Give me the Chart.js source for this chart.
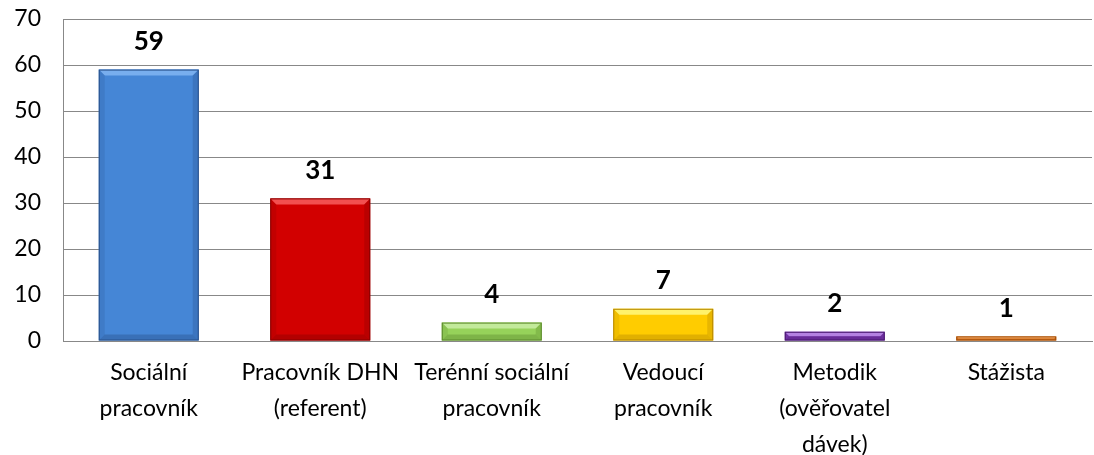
<!DOCTYPE html>
<html>
<head>
<meta charset="utf-8">
<script src="https://cdn.jsdelivr.net/npm/chart.js@4"></script>
<style>
    html, body { margin: 0; padding: 0; background: #fff; }
    #wrap { width: 1094px; height: 455px; }
</style>
</head>
<body>
<div id="wrap"><canvas id="chart" width="1094" height="455"></canvas></div>
<script>
var categories = [
    ["Sociální", "pracovník"],
    ["Pracovník DHN", "(referent)"],
    ["Terénní sociální", "pracovník"],
    ["Vedoucí", "pracovník"],
    ["Metodik", "(ověřovatel", "dávek)"],
    ["Stážista"]
];
var counts = [59, 31, 4, 7, 2, 1];
var yTicks = [0, 10, 20, 30, 40, 50, 60, 70];

// top, bottom, light (top bevel), dark (edges)
var barColors = [
    ["#4586d6", "#3463a6", "#78aeee", "#28508a"],
    ["#d20000", "#b80000", "#f25050", "#840000"],
    ["#96d25a", "#80bb46", "#c2ea9a", "#5a882c"],
    ["#ffcc00", "#f5bb00", "#fff26a", "#b48600"],
    ["#7d3ab4", "#6a2c9c", "#b482e2", "#48186e"],
    ["#ec7c22", "#d86a14", "#f8ac66", "#9c4c0a"]
];

var fontName = "Lato, 'Open Sans', sans-serif";

var bevelPlugin = {
    id: 'bevel',
    afterDatasetsDraw: function(chart) {
        var ctx = chart.ctx;
        var meta = chart.getDatasetMeta(0);
        meta.data.forEach(function(bar, i) {
            var c = barColors[i];
            var left = bar.x - bar.width / 2;
            var right = bar.x + bar.width / 2;
            var top = bar.y;
            var bottom = bar.base;
            var h = bottom - top;
            var b = Math.min(6, h / 2);
            ctx.save();
            // top bevel
            ctx.fillStyle = c[2];
            ctx.beginPath();
            ctx.moveTo(left, top);
            ctx.lineTo(right, top);
            ctx.lineTo(right - b, top + b);
            ctx.lineTo(left + b, top + b);
            ctx.closePath();
            ctx.fill();
            // side bevels
            ctx.globalAlpha = 0.2;
            ctx.fillStyle = c[3];
            ctx.beginPath();
            ctx.moveTo(left, top);
            ctx.lineTo(left + b, top + b);
            ctx.lineTo(left + b, bottom - b);
            ctx.lineTo(left, bottom);
            ctx.closePath();
            ctx.fill();
            ctx.globalAlpha = 0.3;
            ctx.beginPath();
            ctx.moveTo(right, top);
            ctx.lineTo(right - b, top + b);
            ctx.lineTo(right - b, bottom - b);
            ctx.lineTo(right, bottom);
            ctx.closePath();
            ctx.fill();
            ctx.globalAlpha = 0.4;
            ctx.beginPath();
            ctx.moveTo(left, bottom);
            ctx.lineTo(left + b, bottom - b);
            ctx.lineTo(right - b, bottom - b);
            ctx.lineTo(right, bottom);
            ctx.closePath();
            ctx.fill();
            ctx.globalAlpha = 1;
            ctx.strokeStyle = c[3];
            ctx.lineWidth = 1;
            ctx.strokeRect(left + 0.5, top + 0.5, bar.width - 1, h - 1);
            // value label
            ctx.fillStyle = "#000";
            ctx.font = "bold 26px " + fontName;
            ctx.textAlign = "center";
            ctx.textBaseline = "middle";
            ctx.fillText(counts[i], bar.x, top - 28);
            ctx.restore();
        });
    }
};

new Chart(document.getElementById("chart"), {
    type: 'bar',
    data: {
        labels: categories,
        datasets: [{
            data: counts,
            backgroundColor: function(context) {
                var chart = context.chart;
                var c = barColors[context.dataIndex];
                var bar = chart.getDatasetMeta(0).data[context.dataIndex];
                if (!bar || !isFinite(bar.y) || !isFinite(bar.base) || bar.base - bar.y < 1) return c[0];
                var g = chart.ctx.createLinearGradient(0, bar.y, 0, bar.base);
                g.addColorStop(0, c[0]);
                g.addColorStop(1, c[1]);
                return g;
            },
            borderWidth: 0,
            barPercentage: 0.583,
            categoryPercentage: 1
        }]
    },
    options: {
        responsive: false,
        animation: false,
        layout: { padding: { top: 19, right: 2, left: 0, bottom: 0 } },
        plugins: {
            legend: { display: false },
            tooltip: { enabled: false }
        },
        scales: {
            x: {
                grid: { display: false },
                border: { color: "#888888", width: 1 },
                ticks: {
                    color: "#000",
                    font: { family: fontName, size: 23, lineHeight: 1.55 },
                    padding: 6,
                    maxRotation: 0,
                    autoSkip: false
                },
                afterFit: function(scale) {
                    scale.height = 114;
                    scale.paddingTop = 0;
                    scale.paddingBottom = 0;
                }
            },
            y: {
                min: 0,
                max: 70,
                afterBuildTicks: function(scale) {
                    scale.ticks = yTicks.map(function(v) { return { value: v }; });
                },
                grid: { color: "#888888", lineWidth: 1, drawTicks: false },
                border: { color: "#888888", width: 1 },
                ticks: {
                    color: "#000",
                    font: { family: fontName, size: 23 },
                    padding: 22
                },
                afterFit: function(scale) {
                    scale.width = 63;
                    scale.paddingTop = 0;
                    scale.paddingBottom = 0;
                }
            }
        }
    },
    plugins: [bevelPlugin]
});
</script>
</body>
</html>
